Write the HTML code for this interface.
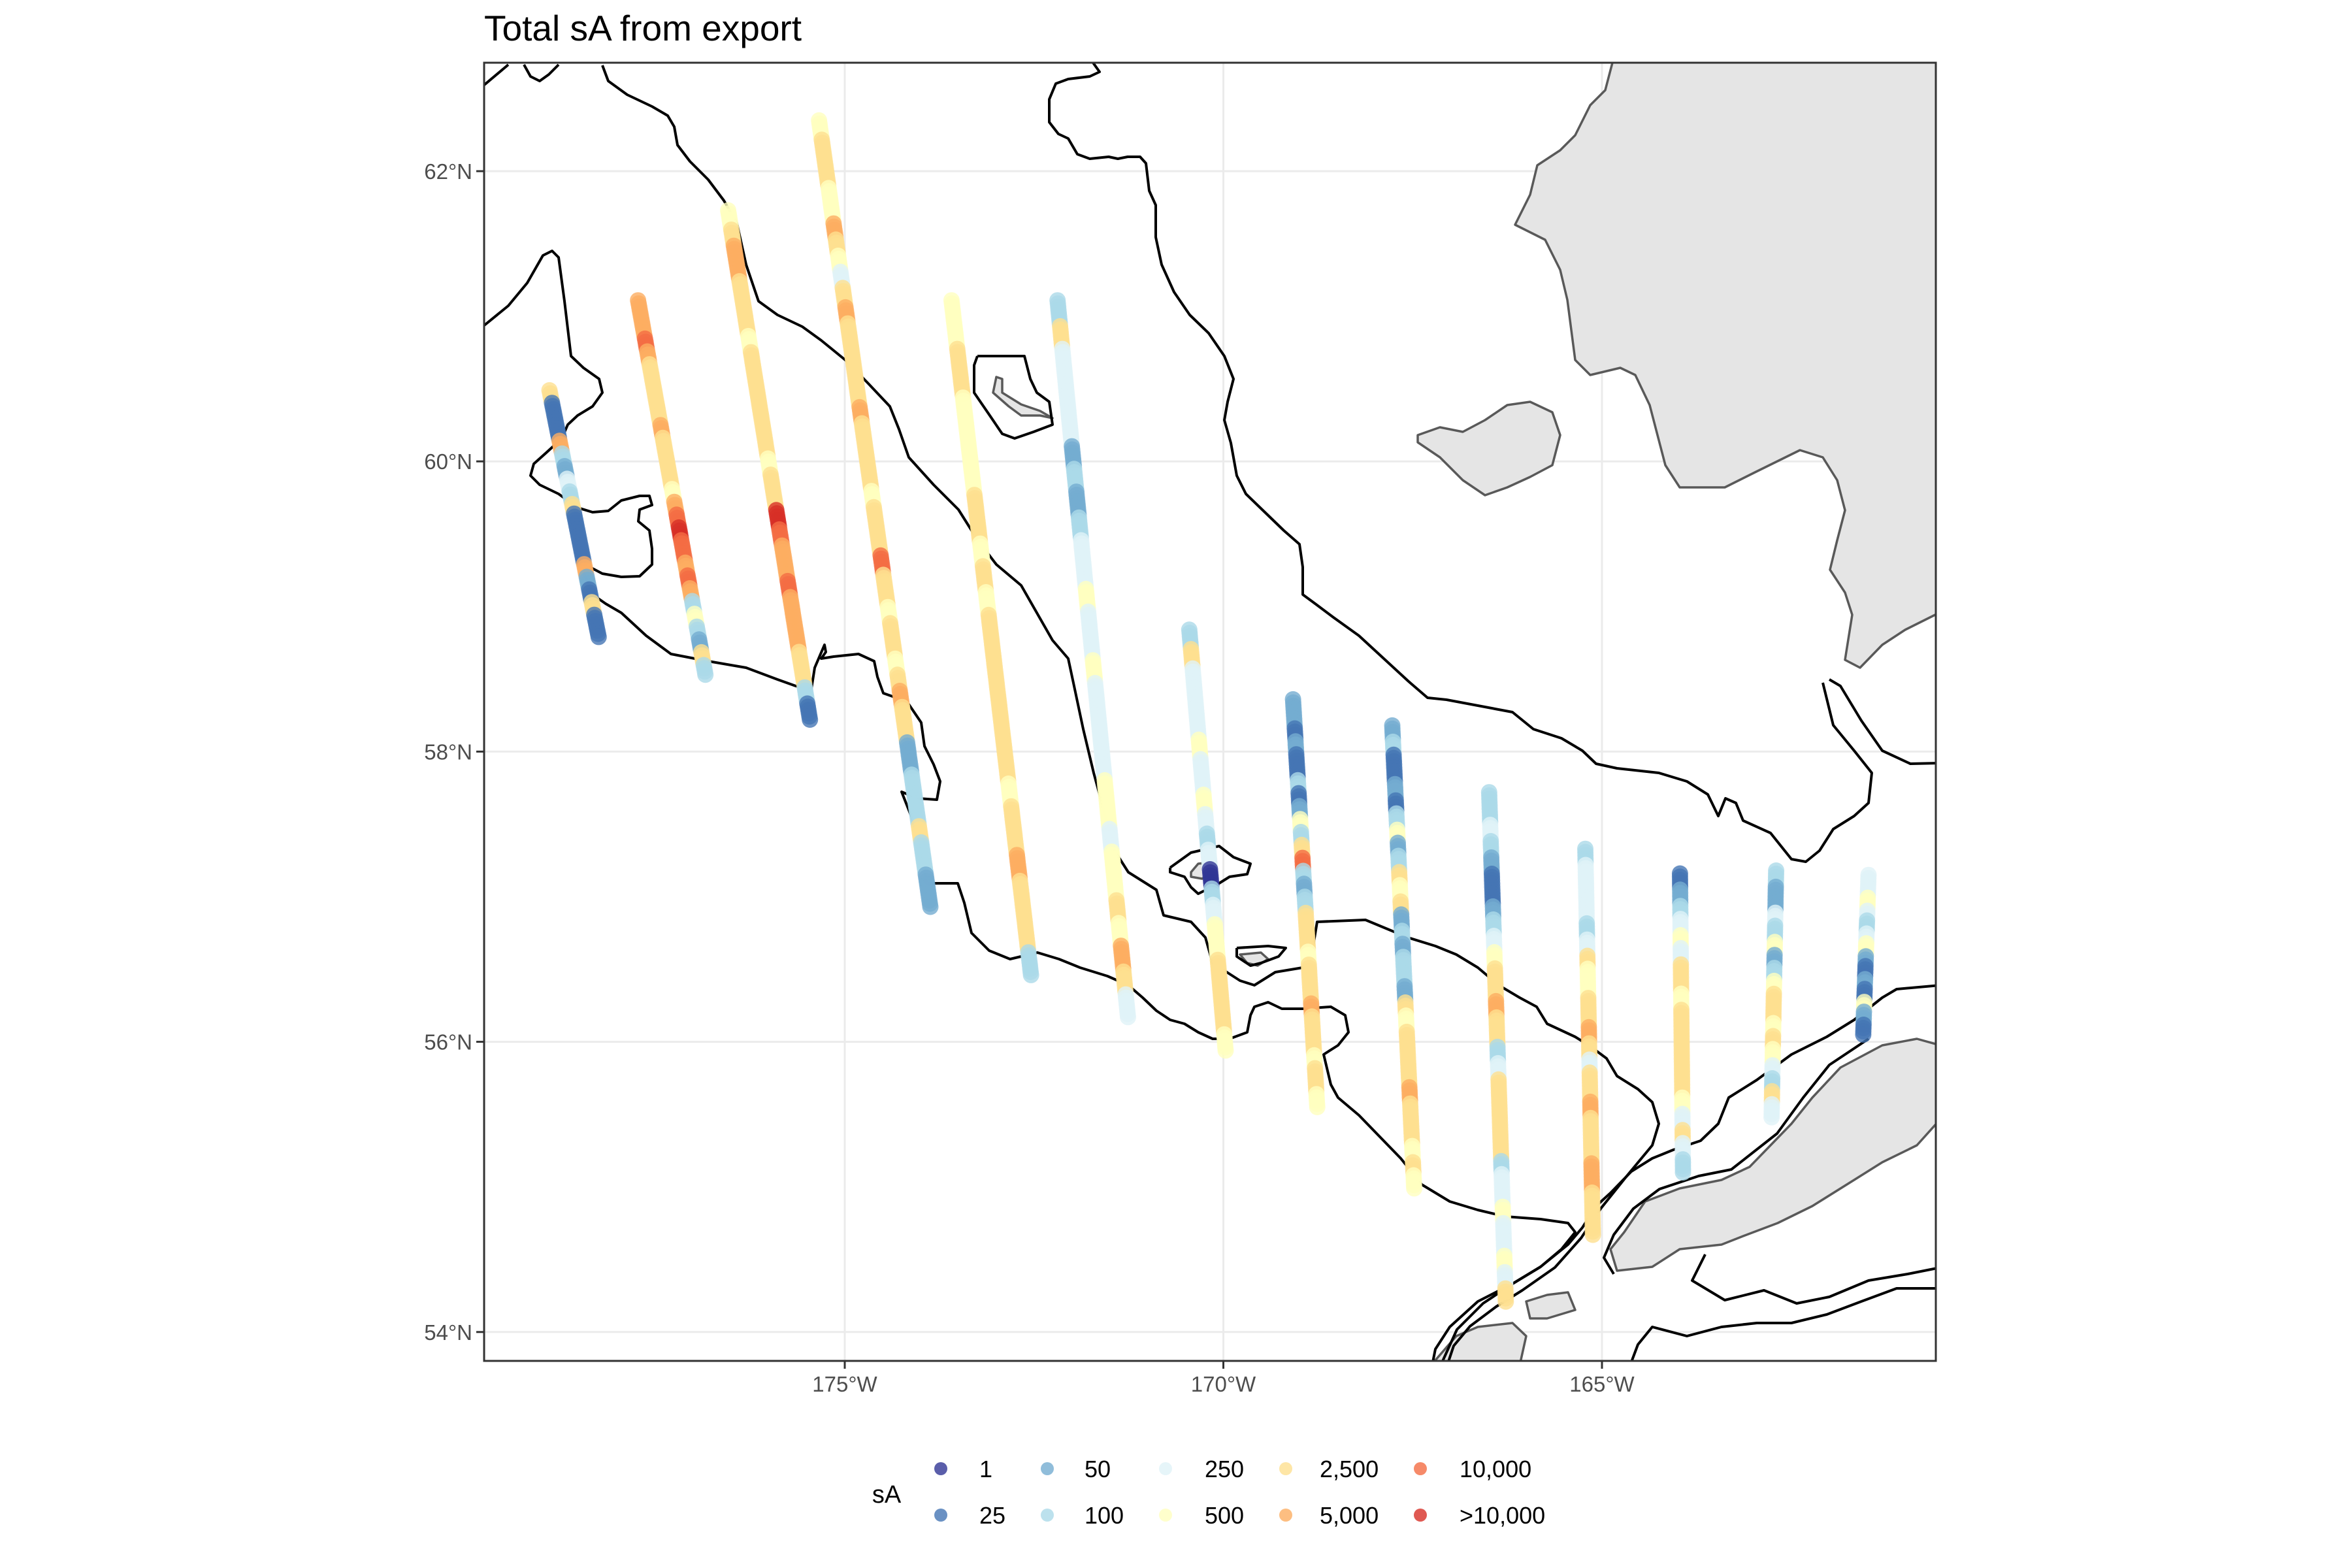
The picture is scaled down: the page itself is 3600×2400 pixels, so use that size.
<!DOCTYPE html>
<html><head><meta charset="utf-8"><style>
html,body{margin:0;padding:0;background:#fff;}
svg{display:block;font-family:"Liberation Sans",Arial,sans-serif;}
</style></head><body>
<svg id="chart" width="3600" height="2400" viewBox="0 0 3600 2400" xmlns="http://www.w3.org/2000/svg">
<rect width="3600" height="2400" fill="#fff"/>
<text x="741" y="62" font-size="55" fill="#000">Total sA from export</text>
<defs><clipPath id="pc"><rect x="741" y="96" width="2222" height="1987"/></clipPath></defs>
<g id="grid"></g>
<g id="basemap" clip-path="url(#pc)"></g>
<g id="points" clip-path="url(#pc)"></g>
<rect x="741" y="96" width="2222" height="1987" fill="none" stroke="#333" stroke-width="3"/>
<g id="axes"></g>
<g id="legend">
<text x="1357" y="2300" font-size="38" fill="#000" text-anchor="middle">sA</text>
</g>
</svg>
<script>
const NS="http://www.w3.org/2000/svg";
// ---- data ----
const lonTicks=[-175,-170,-165];
const lonTickLabels=["175°W","170°W","165°W"];
const latTicks=[54,56,58,60,62];
const latTickLabels=["54°N","56°N","58°N","60°N","62°N"];
const categoryLabels=["1","25","50","100","250","500","2,500","5,000","10,000",">10,000"];
const categoryColors=["#313695","#4575b4","#74add1","#abd9e9","#e0f3f8","#ffffbf","#fee090","#fdae61","#f46d43","#d73027"];
const transectStartLon=[-178.90,-177.73,-176.54,-175.34,-173.59,-172.19,-170.45,-169.08,-167.77,-166.49,-165.22,-163.97,-162.70,-161.48];
const transectStartLat=[60.49,61.11,61.73,62.35,61.11,61.11,58.84,58.36,58.18,57.72,57.33,57.16,57.18,57.15];
const transectEndLon=[-178.25,-176.84,-175.46,-173.87,-172.54,-171.26,-169.97,-168.76,-167.48,-166.27,-165.12,-163.93,-162.76,-161.55];
const transectEndLat=[58.79,58.53,58.22,56.93,56.46,56.17,55.94,55.55,54.99,54.21,54.67,55.10,55.48,56.05];
const transectCats=[
[6,1,1,1,7,3,2,4,3,6,1,1,1,1,7,2,1,6,1,1],
[7,7,7,8,7,6,6,6,6,6,7,6,6,6,6,5,7,8,9,8,8,7,8,7,3,5,3,2,6,3],
[5,6,7,7,6,6,6,5,6,6,6,6,6,6,5,6,6,9,8,7,7,8,7,7,7,6,6,3,1],
[5,6,6,6,5,5,7,6,5,4,6,7,6,6,6,6,6,7,6,6,6,6,5,6,6,6,8,6,6,5,6,6,5,6,7,6,6,2,2,3,3,3,6,3,3,2,2],
[5,5,6,6,5,5,5,5,6,6,5,6,5,6,6,6,6,6,6,6,5,6,6,7,6,6,6,3],
[3,6,4,4,4,4,2,3,2,3,4,4,5,4,4,5,4,4,4,4,5,5,4,5,5,6,5,7,6,4],
[3,6,4,4,4,4,5,4,4,5,4,3,4,0,3,4,5,5,6,6,6,6,5],
[2,2,1,2,1,1,3,1,2,5,3,6,8,3,2,3,6,6,6,5,6,6,6,7,6,6,6,5,6,6,5],
[2,3,1,1,2,1,3,5,2,3,6,5,6,2,3,2,3,3,2,6,5,6,6,6,6,7,6,6,6,5,6,5],
[3,3,4,3,2,1,1,2,3,4,5,6,6,7,6,6,3,4,6,6,6,6,6,3,4,4,5,4,4,5,4,6],
[3,4,4,4,4,3,4,6,5,5,6,6,7,6,4,6,6,7,6,6,6,7,7,6,6,6],
[1,2,3,4,5,4,6,6,5,6,6,6,6,6,6,5,4,6,4,3],
[3,2,2,4,3,5,2,3,5,6,6,5,6,5,4,3,6,4],
[4,4,5,4,3,4,5,2,1,2,1,5,2,1]
];
// ---- scales ----
function xs(lon){return 1293+(lon+175)*115.9;}
function ys(lat){return 262+(62-lat)*222.1;}
const P={x0:741,x1:2963,y0:96,y1:2083};
function mk(tag,attrs,parent){const e=document.createElementNS(NS,tag);for(const k in attrs)e.setAttribute(k,attrs[k]);parent.appendChild(e);return e;}
// grid
const grid=document.getElementById('grid');
lonTicks.forEach(function(l){const e=mk('line',{x1:xs(l),x2:xs(l),y1:P.y0,y2:P.y1,stroke:'#ebebeb','stroke-width':3},grid);

});
latTicks.forEach(function(l){const e=mk('line',{x1:P.x0,x2:P.x1,y1:ys(l),y2:ys(l),stroke:'#ebebeb','stroke-width':3},grid);

});
// axes
const axes=document.getElementById('axes');
lonTicks.forEach(function(l,i){const t=mk('line',{x1:xs(l),x2:xs(l),y1:P.y1,y2:P.y1+12,stroke:'#333','stroke-width':3},axes);


const tx=mk('text',{x:xs(l),y:P.y1+47,'font-size':33,fill:'#4d4d4d','text-anchor':'middle'},axes);tx.textContent=lonTickLabels[i];

});
latTicks.forEach(function(l,i){const t=mk('line',{x1:P.x0-12,x2:P.x0,y1:ys(l),y2:ys(l),stroke:'#333','stroke-width':3},axes);


const tx=mk('text',{x:P.x0-18,y:ys(l)+12,'font-size':33,fill:'#4d4d4d','text-anchor':'end'},axes);tx.textContent=latTickLabels[i];

});
// basemap
const bm=document.getElementById('basemap');
function pts(a){let s='';for(let i=0;i<a.length;i+=2)s+=a[i]+','+a[i+1]+' ';return s;}
const lands=[
[2468,96,2457,138,2434,161,2411,207,2388,230,2353,253,2342,298,2319,344,2365,367,2388,413,2399,459,2411,551,2434,574,2480,563,2503,574,2525,620,2537,666,2549,712,2571,746,2640,746,2686,723,2755,689,2790,700,2812,735,2824,781,2812,827,2801,872,2824,907,2835,941,2824,1010,2847,1022,2881,987,2916,964,2962,941,2970,941,2970,90,2468,90],
[2170,666,2204,654,2239,661,2273,643,2307,620,2342,615,2376,631,2388,666,2376,712,2342,730,2307,746,2273,758,2239,735,2204,700,2170,677],
[1525,577,1534,580,1534,601,1563,619,1592,629,1611,640,1592,636,1563,636,1544,622,1520,601],
[1823,1335,1834,1322,1861,1319,1856,1335,1840,1345,1823,1342],
[1898,1461,1930,1458,1941,1468,1925,1478,1909,1474],
[2465,1912,2486,1886,2518,1839,2571,1819,2635,1806,2678,1786,2710,1753,2742,1720,2774,1680,2817,1634,2881,1600,2934,1590,2970,1600,2970,1713,2934,1753,2881,1779,2838,1806,2774,1846,2721,1872,2668,1892,2635,1905,2571,1912,2529,1939,2475,1945],
[2190,2090,2229,2045,2262,2031,2315,2025,2336,2045,2326,2090],
[2336,1992,2368,1982,2400,1978,2411,2005,2368,2018,2342,2018]
];
lands.forEach(function(a){const e=mk('polygon',{points:pts(a),fill:'#e5e5e5',stroke:'#595959','stroke-width':3.5,'stroke-linejoin':'round'},bm);

});
const lines=[
[740,131,778,99],
[802,99,812,117,826,124,840,114,855,99],
[922,100,931,124,960,145,998,163,1022,177,1032,194,1037,222,1056,247,1084,275,1108,307,1128,342,1142,405,1161,461,1190,482,1228,500,1257,521,1295,552,1329,587,1362,622,1376,657,1391,700,1429,742,1467,780,1496,826,1525,864,1563,896,1587,938,1611,980,1635,1008,1644,1050,1658,1116,1674,1183,1690,1242,1706,1302,1727,1335,1770,1362,1781,1401,1823,1411,1845,1435,1856,1474,1898,1501,1920,1508,1952,1488,1994,1481,2010,1448,2016,1411,2090,1408,2155,1435,2197,1448,2229,1461,2262,1481,2294,1508,2326,1527,2352,1541,2368,1567,2411,1587,2432,1600,2459,1620,2475,1647,2507,1667,2529,1687,2539,1720,2529,1753,2490,1800,2450,1850,2420,1895,2380,1940,2330,1975,2290,2000,2250,2030,2225,2060,2215,2090],
[740,499,778,468,807,433,831,391,845,384,855,394,864,461,874,545,893,563,917,580,922,601,907,622,884,636,869,650,860,671,836,693,817,710,812,728,826,742,855,756,884,777,907,784,931,782,951,766,979,759,994,759,998,773,979,780,977,798,994,812,998,840,998,864,979,882,951,883,922,878,903,868,893,875,907,910,927,924,951,938,989,973,1027,1001,1084,1012,1142,1022,1190,1040,1218,1050,1242,1054,1247,1022,1262,987,1264,998,1257,1008,1276,1005,1314,1001,1338,1012,1343,1036,1352,1061,1372,1068,1391,1078,1410,1106,1415,1142,1429,1170,1439,1196,1434,1224,1405,1222,1380,1212,1395,1250,1410,1300,1418,1352,1434,1352,1466,1352,1476,1382,1487,1428,1514,1455,1546,1468,1588,1458,1621,1468,1653,1481,1695,1494,1727,1508,1749,1527,1770,1547,1791,1561,1813,1567,1834,1580,1856,1590,1882,1590,1909,1580,1914,1554,1920,1541,1941,1534,1962,1544,1994,1544,2037,1541,2059,1554,2064,1580,2048,1600,2026,1614,2037,1660,2048,1680,2080,1707,2112,1740,2144,1773,2176,1813,2219,1839,2262,1852,2304,1862,2358,1866,2400,1872,2411,1886,2390,1912,2358,1939,2315,1965,2262,1992,2219,2031,2197,2065,2192,2090],
[1673,96,1683,110,1668,117,1635,121,1616,128,1606,152,1606,187,1620,205,1635,212,1649,236,1668,243,1697,240,1711,243,1726,240,1745,240,1754,250,1759,292,1769,314,1769,363,1778,405,1797,447,1821,482,1850,510,1874,545,1888,580,1879,615,1874,643,1884,678,1893,728,1907,756,1936,784,1965,812,1989,833,1994,868,1994,910,2013,924,2041,945,2080,973,2118,1008,2156,1043,2185,1068,2214,1071,2262,1080,2315,1090,2347,1116,2390,1130,2422,1149,2443,1169,2475,1176,2539,1183,2582,1196,2614,1216,2630,1249,2641,1222,2657,1229,2668,1256,2710,1275,2742,1315,2764,1319,2785,1302,2806,1269,2838,1249,2860,1229,2865,1183,2838,1149,2806,1110,2790,1045],
[2800,1040,2817,1050,2849,1103,2881,1149,2924,1169,2970,1168],
[2970,1508,2903,1514,2881,1527,2838,1561,2796,1587,2742,1614,2689,1653,2646,1680,2630,1720,2603,1746,2561,1760,2529,1773,2497,1793,2465,1826,2443,1846,2422,1879,2400,1905,2358,1939,2315,1965,2270,1995,2230,2035,2205,2090],
[2970,1972,2903,1972,2849,1992,2796,2012,2742,2025,2689,2025,2635,2031,2582,2045,2529,2031,2507,2058,2495,2090],
[1496,545,1534,545,1568,545,1577,580,1587,601,1606,615,1611,650,1582,661,1553,671,1534,664,1515,636,1491,601,1491,559,1496,545],
[1791,1328,1823,1305,1866,1295,1888,1312,1914,1322,1909,1338,1882,1342,1866,1352,1834,1368,1823,1358,1813,1342,1791,1335,1791,1328],
[1893,1451,1941,1448,1968,1451,1957,1464,1930,1474,1914,1478,1893,1464,1893,1451],
[2470,1950,2455,1925,2470,1890,2500,1850,2540,1820,2600,1800,2650,1790,2720,1735,2760,1680,2800,1630,2860,1590],
[2610,1920,2590,1960,2640,1990,2700,1975,2750,1995,2800,1985,2860,1960,2920,1950,2970,1940]
];
lines.forEach(function(a){const e=mk('polyline',{points:pts(a),fill:'none',stroke:'#000','stroke-width':4,'stroke-linejoin':'round'},bm);

});
// transect points
const pg=document.getElementById('points');
transectCats.forEach(function(cats,ti){
  const xa=xs(transectStartLon[ti]),ya=ys(transectStartLat[ti]),xb=xs(transectEndLon[ti]),yb=ys(transectEndLat[ti]);
  const len=Math.hypot(xb-xa,yb-ya);const M=Math.ceil(len/5);const n=cats.length;
  const g=mk('g',{},pg);
  
  
  for(let k=0;k<=M;k++){const t=k/M;const c=cats[Math.min(Math.floor(t*n),n-1)];
    const e=mk('circle',{cx:(xa+(xb-xa)*t).toFixed(1),cy:(ya+(yb-ya)*t).toFixed(1),r:12.5,fill:categoryColors[c],'fill-opacity':0.8},g);
    
    }
});
// legend
const lg=document.getElementById('legend');
const legX=[1440,1603,1784,1968,2174],legTX=[1499,1660,1844,2020,2234],legY=[2248,2319];
categoryLabels.forEach(function(lab,i){const col=Math.floor(i/2),row=i%2;
  const c=mk('circle',{cx:legX[col],cy:legY[row],r:10,fill:categoryColors[i],'fill-opacity':0.8},lg);
  
  
  const t=mk('text',{x:legTX[col],y:legY[row]+13,'font-size':36,fill:'#000'},lg);t.textContent=lab;
  
  
});
</script>
</body></html>
